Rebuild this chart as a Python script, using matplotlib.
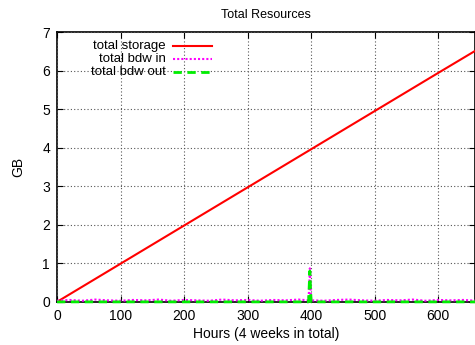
import numpy as np
import matplotlib
matplotlib.use('Agg')
import matplotlib.pyplot as plt

plt.rcParams['font.family'] = ['Liberation Sans', 'DejaVu Sans']

# values
storage_hours = [0, 100, 200, 300, 400, 500, 600, 660]
storage_gb = [0.0, 0.99, 1.98, 2.97, 3.96, 4.95, 5.94, 6.53]

bdw_hours = [0, 20, 40, 60, 80, 100, 120, 140, 160, 180, 200, 220, 240, 260,
             280, 300, 320, 340, 360, 380, 396, 398, 400, 402, 420, 440, 460,
             480, 500, 520, 540, 560, 580, 600, 620, 640, 660]
bdw_in = [0.03, 0.05, 0.03, 0.06, 0.04, 0.03, 0.05, 0.04, 0.06, 0.03, 0.05,
          0.04, 0.03, 0.06, 0.04, 0.05, 0.03, 0.05, 0.04, 0.06, 0.04, 0.87,
          0.05, 0.04, 0.03, 0.05, 0.06, 0.04, 0.03, 0.05, 0.04, 0.06, 0.03,
          0.05, 0.04, 0.05, 0.03]
bdw_out = [0.0, 0.0, 0.0, 0.0, 0.0, 0.0, 0.0, 0.0, 0.0, 0.0, 0.0, 0.0, 0.0,
           0.0, 0.0, 0.0, 0.0, 0.0, 0.0, 0.0, 0.0, 0.80, 0.0, 0.0, 0.0, 0.0,
           0.0, 0.0, 0.0, 0.0, 0.0, 0.0, 0.0, 0.0, 0.0, 0.0, 0.0]

x_ticks = [0, 100, 200, 300, 400, 500, 600]
y_ticks = [0, 1, 2, 3, 4, 5, 6, 7]

fig = plt.figure(figsize=(4.75, 3.45), dpi=100)
ax = fig.add_axes([0.12, 0.125, 0.88, 0.782])

series = [
    ('total storage', storage_hours, storage_gb,
     dict(color='#ff0000', lw=1.5, ls='-')),
    ('total bdw in', bdw_hours, bdw_in,
     dict(color='#ff00ff', lw=1.5, ls=(0, (1, 1)))),
    ('total bdw out', bdw_hours, bdw_out,
     dict(color='#00ee00', lw=2.0, ls=(0, (3, 2)))),
]

for label, xs, ys, st in series:
    ax.plot(xs, ys, clip_on=False if label == 'total bdw out' else True, **st)

ax.set_xlim(0, 658)
ax.set_ylim(0, 7)
ax.set_xticks(x_ticks)
ax.set_yticks(y_ticks)
ax.tick_params(direction='in', top=True, right=True, length=4, labelsize=10,
               pad=5)
ax.grid(True, color='#555555', ls=(0, (1, 2)), lw=0.8)
for s in ax.spines.values():
    s.set_linewidth(1.2)
    s.set_zorder(1)

ax.set_title('Total Resources', fontsize=9, pad=10)
ax.set_xlabel('Hours (4 weeks in total)', fontsize=10, labelpad=3)
ax.set_ylabel('GB', fontsize=10, labelpad=12)

# gnuplot-style key: label right-aligned, sample to its right
key_y = [0.947, 0.899, 0.851]
for (label, xs, ys, st), ky in zip(series, key_y):
    ax.text(0.261, ky, label, transform=ax.transAxes, ha='right', va='center',
            fontsize=9.5)
    ax.plot([0.278, 0.371], [ky, ky], transform=ax.transAxes, **st)

plt.savefig('out.png', dpi=100, facecolor='white')
plt.close()
